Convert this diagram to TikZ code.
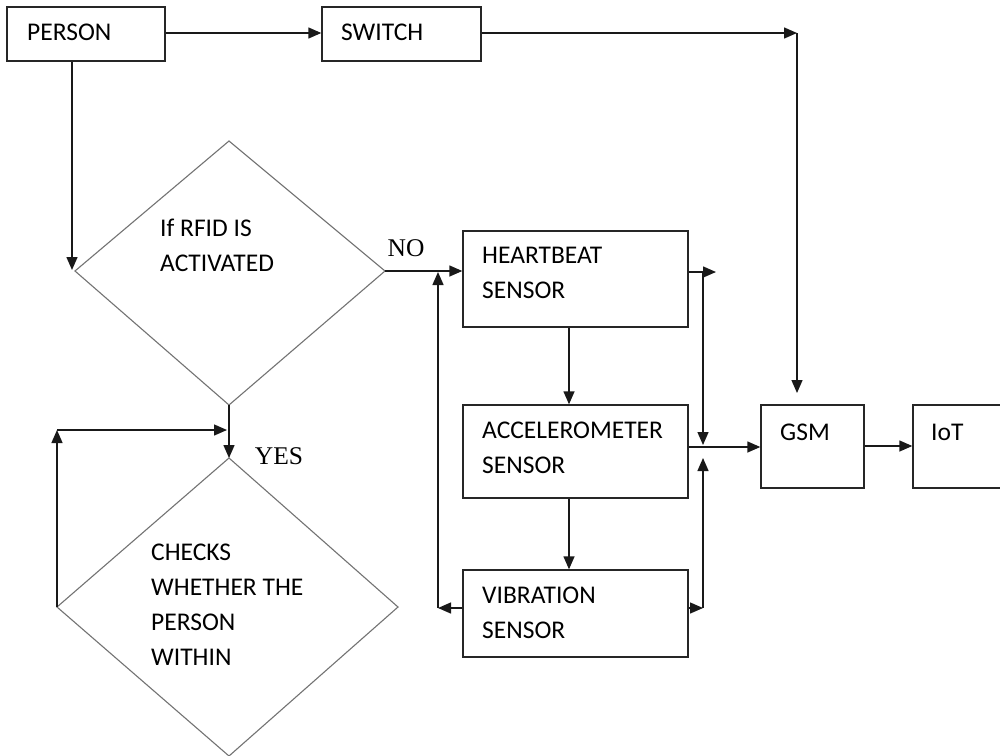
\documentclass[tikz,border=0pt]{standalone}
\usepackage{fontspec}
\setmainfont{Carlito}
\newfontfamily\serifl{Liberation Serif}
\usetikzlibrary{arrows.meta}
\begin{document}
\begin{tikzpicture}[x=1pt,y=-1pt,
  box/.style={draw=black!85, line width=1.4pt, rectangle, inner sep=0pt},
  txt/.style={anchor=west, align=left, inner sep=0pt, font=\fontsize{25.5}{35}\selectfont},
  lbl/.style={inner sep=0pt, font=\serifl\fontsize{25.5}{30}\selectfont},
  dia/.style={draw=black!55, line width=1.1pt},
  arr/.style={draw=black!90, line width=1.4pt, -{Triangle[length=13pt,width=11pt]}},
  ln/.style={draw=black!90, line width=1.4pt}]
\useasboundingbox[fill=white] (0,0) rectangle (1000,755);
% boxes
\node[box, minimum width=158pt, minimum height=54pt] (person) at (86,34) {};
\node[txt] (personT) at (27,32) {PERSON};
\node[box, minimum width=159pt, minimum height=54pt] (switch) at (401.5,34) {};
\node[txt] (switchT) at (341,32) {SWITCH};
\node[box, minimum width=225pt, minimum height=96pt] (hb) at (575.5,279) {};
\node[txt] (hbT) at (482,273) {HEARTBEAT\\SENSOR};
\node[box, minimum width=225pt, minimum height=93pt] (acc) at (575.5,451.5) {};
\node[txt] (accT) at (482,448) {ACCELEROMETER\\SENSOR};
\node[box, minimum width=225pt, minimum height=87pt] (vib) at (575.5,613.5) {};
\node[txt] (vibT) at (482,613) {VIBRATION\\SENSOR};
\node[box, minimum width=103pt, minimum height=83pt] (gsm) at (812.5,446.5) {};
\node[txt] (gsmT) at (780,432) {GSM};
\node[box, minimum width=92pt, minimum height=83pt] (iot) at (959,446.5) {};
\node[txt] (iotT) at (931,432) {IoT};
% diamond 1
\coordinate (d1t) at (229,141);
\coordinate (d1r) at (385,271);
\coordinate (d1b) at (229,405);
\coordinate (d1l) at (75,271);
\draw[dia] (d1t) -- (d1r) -- (d1b) -- (d1l) -- cycle;
\node[txt] (d1T) at (160,245) {If RFID IS\\ACTIVATED};
% diamond 2
\coordinate (d2t) at (229,458);
\coordinate (d2r) at (398,607);
\coordinate (d2b) at (229,756);
\coordinate (d2l) at (57,607);
\draw[dia] (d2t) -- (d2r) -- (d2b) -- (d2l) -- cycle;
\node[txt] (d2T) at (151,605) {CHECKS\\WHETHER THE\\PERSON\\WITHIN};
% labels
\node[lbl] (no) at (406,248) {NO};
\node[lbl] (yes) at (279,456) {YES};
% connectors
\draw[arr] (person.east |- 0,33) -- (switch.west |- 0,33);
\coordinate (swc) at (797,33);
\draw[arr] (switch.east |- swc) -- (swc);
\coordinate (gsmin) at (797,393);
\draw[arr] (swc) -- (gsmin);
\coordinate (pd) at (72,270);
\draw[arr] (person.south -| pd) -- (pd);
\draw[arr] (d1r) -- (hb.west |- d1r);
\draw[arr] (d1b) -- (d2t);
\coordinate (lt) at (57,430);
\coordinate (lr) at (227,430);
\draw[arr] (d2l) -- (lt);
\draw[arr] (lt) -- (lr);
\draw[arr] (hb.south -| 569,0) -- (acc.north -| 569,0);
\draw[arr] (acc.south -| 569,0) -- (vib.north -| 569,0);
\coordinate (vl) at (438,608);
\coordinate (vlt) at (438,272);
\draw[arr] (vib.west |- vl) -- (vl);
\draw[arr] (vl) -- (vlt);
\coordinate (hr) at (716,272);
\coordinate (hj) at (703,272);
\coordinate (hjb) at (703,445);
\draw[arr] (hb.east |- hr) -- (hr);
\draw[arr] (hj) -- (hjb);
\draw[arr] (acc.east |- 0,447) -- (gsm.west |- 0,447);
\coordinate (vr) at (703,608);
\coordinate (vrt) at (703,458);
\draw[arr] (vib.east |- vr) -- (vr);
\draw[arr] (vr) -- (vrt);
\draw[arr] (gsm.east |- 0,446) -- (iot.west |- 0,446);
\end{tikzpicture}
\end{document}
